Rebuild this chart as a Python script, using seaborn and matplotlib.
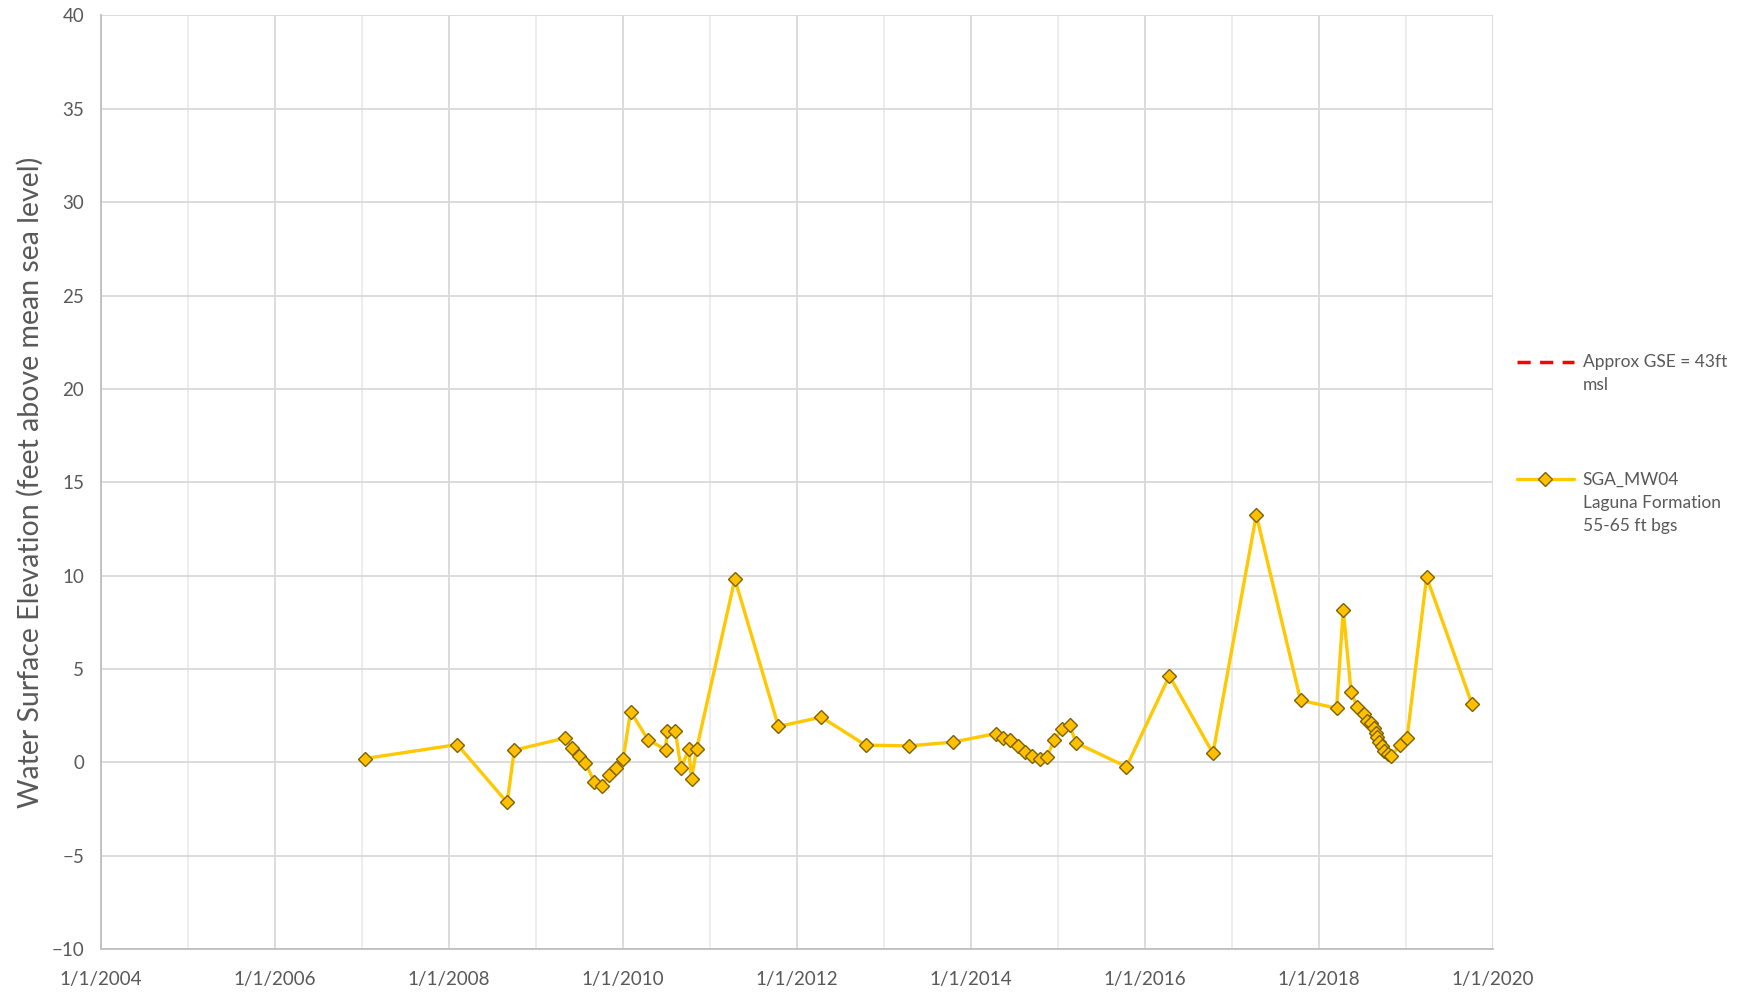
import pandas as pd
import matplotlib
matplotlib.use("Agg")
import matplotlib.pyplot as plt
import matplotlib.dates as mdates
from matplotlib.legend_handler import HandlerLine2D
import seaborn as sns

# Datas e niveis
dates = [
    "2007-01-12", "2008-02-05", "2008-09-01", "2008-10-01", "2009-05-01",
    "2009-06-01", "2009-07-01", "2009-07-27", "2009-09-01", "2009-10-05",
    "2009-11-03", "2009-12-01", "2010-01-01", "2010-02-01", "2010-04-15",
    "2010-06-28", "2010-07-05", "2010-08-08", "2010-09-01", "2010-10-03",
    "2010-10-15", "2010-11-05", "2011-04-15", "2011-10-15", "2012-04-12",
    "2012-10-15", "2013-04-15", "2013-10-15", "2014-04-15", "2014-05-15",
    "2014-06-15", "2014-07-15", "2014-08-15", "2014-09-15", "2014-10-15",
    "2014-11-15", "2014-12-15", "2015-01-18", "2015-02-18", "2015-03-18",
    "2015-10-15", "2016-04-12", "2016-10-12", "2017-04-12", "2017-10-15",
    "2018-03-15", "2018-04-12", "2018-05-15", "2018-06-10", "2018-07-08",
    "2018-07-22", "2018-08-06", "2018-08-18", "2018-08-26", "2018-09-02",
    "2018-09-09", "2018-09-20", "2018-10-01", "2018-10-15", "2018-10-30",
    "2018-12-05", "2019-01-05", "2019-03-28", "2019-10-05",
]
elevation = [
    0.2, 0.95, -2.15, 0.65, 1.3,
    0.75, 0.36, -0.02, -1.05, -1.25,
    -0.68, -0.3, 0.18, 2.72, 1.22,
    0.68, 1.68, 1.68, -0.32, 0.69,
    -0.9, 0.69, 9.82, 1.92, 2.42,
    0.92, 0.88, 1.08, 1.54, 1.3,
    1.17, 0.9, 0.56, 0.36, 0.2,
    0.27, 1.18, 1.8, 1.98, 1.04,
    -0.24, 4.63, 0.48, 13.25, 3.32,
    2.9, 8.15, 3.75, 2.97, 2.6,
    2.2, 2.08, 1.84, 1.58, 1.34,
    1.1, 0.86, 0.6, 0.42, 0.33,
    0.92, 1.31, 9.93, 3.1,
]
gse_level = 43
series_label = "SGA_MW04\nLaguna Formation\n55-65 ft bgs"
gse_label = "Approx GSE = 43ft\nmsl"
y_label = "Water Surface Elevation (feet above mean sea level)"


class TopLineHandler(HandlerLine2D):
    """Desenha o simbolo da legenda na altura da primeira linha do texto."""

    def __init__(self, shift, **kw):
        super().__init__(**kw)
        self.shift = shift

    def create_artists(self, legend, orig_handle, xdescent, ydescent,
                       width, height, fontsize, trans):
        return super().create_artists(legend, orig_handle, xdescent,
                                      ydescent - self.shift * fontsize,
                                      width, height, fontsize, trans)


df = pd.DataFrame({"date": pd.to_datetime(dates), "elev": elevation})

sns.set_style("white")
plt.rcParams["font.family"] = ["Lato", "DejaVu Sans"]
txt = "#595959"
grid_major = "#d9d9d9"
grid_minor = "#ececec"

fig = plt.figure(figsize=(17.41, 9.93), dpi=100)
ax = fig.add_axes([0.058, 0.0443, 0.7996, 0.9401])

# Linha da superficie do terreno (fora da escala, aparece so na legenda)
gse_line = ax.axhline(gse_level, color="#ff0000", linestyle=(0, (3.8, 2.7)),
                      linewidth=2.5, label=gse_label)

sns.lineplot(data=df, x="date", y="elev", ax=ax, color="#ffc800",
             linewidth=2.4, marker="D", markersize=6.8,
             markerfacecolor="#ffc000", markeredgecolor="#7f6000",
             markeredgewidth=1.0, label=series_label)
data_line = ax.get_lines()[-1]

ax.set_ylim(-10, 40)
ax.set_yticks(range(-10, 41, 5))
ax.set_xlim(pd.Timestamp("2004-01-01"), pd.Timestamp("2020-01-01"))
ax.xaxis.set_major_locator(mdates.YearLocator(2))
ax.xaxis.set_minor_locator(mdates.YearLocator(1))
ax.xaxis.set_major_formatter(
    matplotlib.ticker.FuncFormatter(
        lambda v, p: "{0}/{1}/{2}".format(mdates.num2date(v).month,
                                          mdates.num2date(v).day,
                                          mdates.num2date(v).year)))

ax.grid(True, which="major", color=grid_major, linewidth=1.3)
ax.grid(True, which="minor", axis="x", color=grid_minor, linewidth=1.3)
ax.set_axisbelow(True)

for side in ["top", "right"]:
    ax.spines[side].set_visible(False)
for side in ["left", "bottom"]:
    ax.spines[side].set_color("#bfbfbf")
    ax.spines[side].set_linewidth(1.3)

ax.tick_params(axis="both", which="both", length=0, labelsize=13.5,
               labelcolor=txt)
ax.tick_params(axis="x", pad=16)
ax.tick_params(axis="y", pad=12)
ax.set_xlabel("")
ax.set_ylabel(y_label, fontsize=20.5, color=txt, labelpad=5.5)

# Legenda com o simbolo alinhado na primeira linha do texto
leg = ax.legend(handles=[gse_line, data_line],
                labels=[gse_label, series_label],
                loc="upper left", bbox_to_anchor=(1.012, 0.645),
                frameon=False, fontsize=12.5, labelspacing=4.55,
                handlelength=3.3, handletextpad=0.5, borderaxespad=0,
                handler_map={gse_line: TopLineHandler(1.4),
                             data_line: TopLineHandler(2.8)})
for t in leg.get_texts():
    t.set_color(txt)
    t.set_linespacing(1.55)

fig.savefig("out.png", dpi=100)
